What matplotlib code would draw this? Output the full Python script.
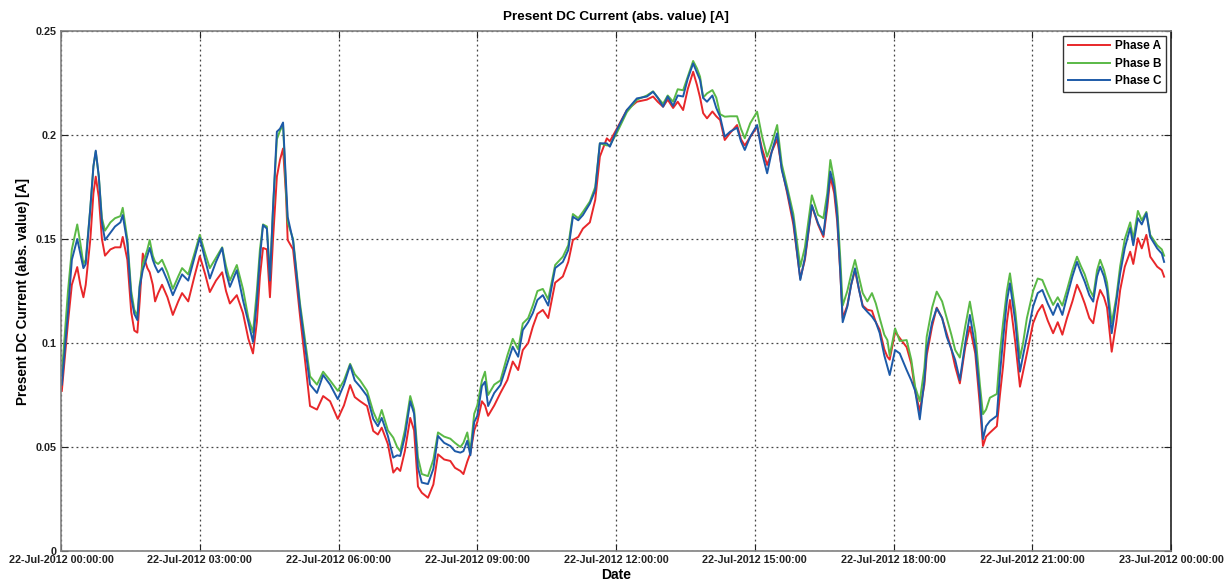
import numpy as np
import matplotlib
matplotlib.use("Agg")
import matplotlib.pyplot as plt
import matplotlib.dates as mdates
from matplotlib.ticker import FuncFormatter
from datetime import datetime, timedelta

# minutes after 22-Jul-2012 00:00:00
minutes = [1, 9, 14, 21, 25, 29, 32, 38, 42, 45, 49, 53, 57, 64, 70, 77, 80, 86, 91, 95,
           99, 102, 106, 112, 115, 119, 122, 126, 131, 138, 145, 152, 157, 165, 173, 180, 187, 193, 201, 209,
           214, 219, 228, 236, 243, 249, 254, 258, 262, 267, 271, 275, 280, 284, 288, 292, 294, 301, 310, 317,
           323, 332, 340, 349, 359, 367, 375, 381, 388, 397, 405, 411, 416, 424, 431, 436, 440, 446, 453, 458,
           463, 468, 476, 483, 489, 497, 505, 511, 518, 522, 527, 531, 536, 540, 546, 550, 554, 562, 570, 579,
           586, 593, 599, 606, 612, 618, 625, 632, 641, 651, 658, 664, 671, 677, 686, 693, 699, 708, 712, 721,
           734, 747, 760, 768, 774, 781, 787, 794, 800, 807, 813, 820, 825, 829, 833, 838, 845, 850, 855, 861,
           868, 877, 882, 887, 894, 903, 909, 916, 922, 929, 935, 942, 950, 959, 965, 974, 982, 989, 994, 998,
           1003, 1007, 1011, 1014, 1020, 1025, 1030, 1035, 1040, 1046, 1052, 1057, 1062, 1068, 1072, 1075, 1082, 1088, 1097, 1103,
           1108, 1114, 1120, 1123, 1130, 1136, 1143, 1149, 1155, 1160, 1166, 1173, 1179, 1186, 1192, 1196, 1200, 1205, 1214, 1218,
           1222, 1227, 1231, 1238, 1244, 1248, 1253, 1261, 1267, 1273, 1280, 1287, 1293, 1299, 1305, 1312, 1318, 1323, 1328, 1334,
           1339, 1344, 1348, 1353, 1357, 1363, 1369, 1374, 1380, 1387, 1391, 1397, 1402, 1408, 1413, 1422, 1428, 1431]

phase_a = [0.077, 0.110, 0.128, 0.1365, 0.128, 0.122, 0.128, 0.150, 0.172, 0.180, 0.170, 0.150, 0.142, 0.145, 0.146, 0.146, 0.151, 0.140, 0.115, 0.106,
           0.105, 0.120, 0.143, 0.136, 0.134, 0.128, 0.120, 0.124, 0.128, 0.122, 0.1135, 0.120, 0.124, 0.120, 0.132, 0.1418, 0.133, 0.1245, 0.130, 0.134,
           0.125, 0.119, 0.123, 0.1144, 0.102, 0.095, 0.110, 0.132, 0.1457, 0.145, 0.122, 0.150, 0.180, 0.188, 0.1935, 0.170, 0.1495, 0.145, 0.113, 0.090,
           0.0697, 0.068, 0.0745, 0.072, 0.0635, 0.070, 0.0798, 0.074, 0.072, 0.0697, 0.0577, 0.056, 0.0593, 0.0514, 0.0377, 0.040, 0.0385, 0.048, 0.064, 0.058,
           0.031, 0.028, 0.0256, 0.032, 0.0465, 0.044, 0.0433, 0.040, 0.0385, 0.037, 0.043, 0.047, 0.058, 0.062, 0.072, 0.070, 0.065, 0.070, 0.076, 0.0822,
           0.0911, 0.0870, 0.0966, 0.100, 0.1078, 0.114, 0.1159, 0.112, 0.129, 0.132, 0.139, 0.1495, 0.151, 0.155, 0.158, 0.1688, 0.1896, 0.1984, 0.197, 0.203,
           0.212, 0.216, 0.217, 0.2185, 0.216, 0.2136, 0.217, 0.213, 0.216, 0.212, 0.222, 0.2304, 0.224, 0.218, 0.2105, 0.208, 0.2113, 0.209, 0.2072, 0.1976,
           0.201, 0.2048, 0.198, 0.195, 0.199, 0.204, 0.194, 0.1856, 0.192, 0.198, 0.184, 0.172, 0.157, 0.131, 0.140, 0.166, 0.157, 0.151, 0.165, 0.180,
           0.172, 0.158, 0.133, 0.112, 0.118, 0.128, 0.135, 0.126, 0.118, 0.116, 0.1155, 0.110, 0.1064, 0.097, 0.0934, 0.092, 0.1054, 0.1024, 0.098, 0.090,
           0.077, 0.0673, 0.080, 0.094, 0.108, 0.117, 0.112, 0.1045, 0.097, 0.0886, 0.0806, 0.098, 0.1078, 0.095, 0.070, 0.0505, 0.055, 0.0569, 0.060, 0.075,
           0.0886, 0.110, 0.1207, 0.100, 0.079, 0.086, 0.095, 0.1095, 0.115, 0.1183, 0.1108, 0.1047, 0.110, 0.104, 0.112, 0.120, 0.128, 0.124, 0.119, 0.112,
           0.1095, 0.120, 0.1255, 0.122, 0.117, 0.0958, 0.110, 0.1255, 0.1367, 0.1439, 0.138, 0.1504, 0.1455, 0.152, 0.1415, 0.1367, 0.135, 0.1319]

phase_b = [0.085, 0.125, 0.145, 0.157, 0.148, 0.138, 0.140, 0.165, 0.185, 0.192, 0.180, 0.160, 0.154, 0.158, 0.160, 0.161, 0.165, 0.150, 0.125, 0.116,
           0.113, 0.128, 0.138, 0.145, 0.1495, 0.142, 0.139, 0.138, 0.140, 0.134, 0.126, 0.132, 0.136, 0.133, 0.143, 0.152, 0.143, 0.136, 0.141, 0.146,
           0.137, 0.130, 0.1375, 0.126, 0.112, 0.105, 0.125, 0.145, 0.157, 0.156, 0.132, 0.165, 0.198, 0.202, 0.205, 0.172, 0.158, 0.150, 0.119, 0.100,
           0.084, 0.080, 0.0862, 0.082, 0.077, 0.082, 0.090, 0.085, 0.082, 0.077, 0.067, 0.062, 0.0678, 0.058, 0.0545, 0.050, 0.048, 0.058, 0.0745, 0.068,
           0.045, 0.037, 0.036, 0.044, 0.057, 0.055, 0.054, 0.052, 0.050, 0.052, 0.057, 0.048, 0.066, 0.070, 0.082, 0.0862, 0.075, 0.080, 0.082, 0.094,
           0.102, 0.097, 0.1094, 0.112, 0.118, 0.125, 0.126, 0.121, 0.1375, 0.1415, 0.147, 0.162, 0.160, 0.163, 0.168, 0.175, 0.196, 0.195, 0.195, 0.201,
           0.211, 0.217, 0.219, 0.221, 0.218, 0.215, 0.219, 0.216, 0.222, 0.2215, 0.228, 0.2356, 0.232, 0.228, 0.218, 0.220, 0.2216, 0.218, 0.210, 0.2088,
           0.209, 0.209, 0.203, 0.1984, 0.2056, 0.2112, 0.200, 0.1896, 0.196, 0.2048, 0.186, 0.175, 0.162, 0.1367, 0.146, 0.171, 0.1616, 0.160, 0.172, 0.188,
           0.178, 0.165, 0.140, 0.118, 0.125, 0.133, 0.1399, 0.132, 0.124, 0.120, 0.124, 0.119, 0.112, 0.104, 0.1014, 0.094, 0.107, 0.101, 0.1014, 0.092,
           0.079, 0.072, 0.088, 0.103, 0.117, 0.1247, 0.120, 0.112, 0.104, 0.0966, 0.093, 0.108, 0.1199, 0.105, 0.080, 0.0658, 0.068, 0.0737, 0.0755, 0.095,
           0.1094, 0.125, 0.1335, 0.115, 0.0927, 0.100, 0.112, 0.125, 0.131, 0.1303, 0.124, 0.1183, 0.122, 0.118, 0.1255, 0.135, 0.1415, 0.137, 0.133, 0.126,
           0.1223, 0.135, 0.140, 0.135, 0.129, 0.1095, 0.122, 0.137, 0.150, 0.158, 0.150, 0.1635, 0.159, 0.163, 0.152, 0.147, 0.145, 0.142]

phase_c = [0.080, 0.115, 0.140, 0.150, 0.143, 0.136, 0.138, 0.165, 0.185, 0.1925, 0.180, 0.158, 0.1495, 0.153, 0.156, 0.158, 0.1615, 0.148, 0.122, 0.114,
           0.111, 0.127, 0.135, 0.142, 0.1457, 0.140, 0.137, 0.134, 0.136, 0.130, 0.123, 0.129, 0.133, 0.130, 0.141, 0.1505, 0.140, 0.131, 0.139, 0.1457,
           0.134, 0.127, 0.135, 0.1206, 0.110, 0.1005, 0.120, 0.141, 0.1567, 0.155, 0.130, 0.165, 0.2016, 0.203, 0.206, 0.175, 0.1606, 0.149, 0.117, 0.097,
           0.080, 0.076, 0.0846, 0.080, 0.073, 0.080, 0.0894, 0.082, 0.079, 0.0745, 0.0635, 0.060, 0.064, 0.0553, 0.0449, 0.046, 0.0457, 0.055, 0.072, 0.066,
           0.040, 0.0329, 0.0322, 0.0395, 0.0553, 0.052, 0.0505, 0.048, 0.0473, 0.048, 0.053, 0.046, 0.062, 0.065, 0.0793, 0.0814, 0.0697, 0.076, 0.0798, 0.0903,
           0.0982, 0.0934, 0.1062, 0.110, 0.1144, 0.1207, 0.123, 0.118, 0.136, 0.139, 0.1447, 0.1607, 0.159, 0.1615, 0.167, 0.1735, 0.196, 0.196, 0.1944, 0.2024,
           0.212, 0.2176, 0.2185, 0.2208, 0.218, 0.2136, 0.2185, 0.214, 0.219, 0.2185, 0.227, 0.2344, 0.230, 0.2264, 0.2178, 0.216, 0.219, 0.213, 0.2088, 0.1992,
           0.2016, 0.2035, 0.197, 0.1928, 0.1992, 0.2048, 0.192, 0.1816, 0.192, 0.2008, 0.1832, 0.173, 0.159, 0.1303, 0.141, 0.1663, 0.1576, 0.152, 0.168, 0.1824,
           0.175, 0.1607, 0.1335, 0.110, 0.1175, 0.128, 0.1359, 0.126, 0.1175, 0.115, 0.1127, 0.110, 0.1048, 0.094, 0.0886, 0.0846, 0.0966, 0.095, 0.087, 0.082,
           0.077, 0.0633, 0.082, 0.0966, 0.110, 0.1167, 0.112, 0.103, 0.097, 0.0918, 0.0822, 0.100, 0.1135, 0.098, 0.075, 0.0538, 0.060, 0.0625, 0.065, 0.085,
           0.1014, 0.120, 0.1287, 0.110, 0.0862, 0.094, 0.103, 0.1175, 0.124, 0.1255, 0.119, 0.1135, 0.119, 0.1135, 0.1223, 0.132, 0.139, 0.134, 0.1295, 0.123,
           0.1199, 0.132, 0.1367, 0.132, 0.1255, 0.1047, 0.120, 0.1335, 0.1457, 0.1553, 0.147, 0.160, 0.157, 0.1624, 0.151, 0.1455, 0.143, 0.139]

labels = ['Phase A', 'Phase B', 'Phase C']
colors = ['#e8272a', '#5ab946', '#1d5aa8']

plt.rcParams['font.family'] = ['Liberation Sans', 'DejaVu Sans']
plt.rcParams['font.weight'] = 'bold'

start = datetime(2012, 7, 22)
t = [start + timedelta(minutes=m) for m in minutes]

fig = plt.figure(figsize=(12.31, 5.86), dpi=100)
ax = fig.add_axes([0.0496, 0.0597, 0.9017, 0.8874])

for y, lab, c in zip([phase_a, phase_b, phase_c], labels, colors):
    ax.plot(t, y, color=c, lw=1.4, label=lab)

ax.set_xlim(start, start + timedelta(days=1))
ax.set_ylim(0, 0.25)
ax.xaxis.set_major_locator(mdates.HourLocator(byhour=range(0, 24, 3)))
ax.xaxis.set_major_formatter(mdates.DateFormatter('%d-%b-%Y %H:%M:%S'))
ax.set_yticks([0, 0.05, 0.1, 0.15, 0.2, 0.25])
ax.yaxis.set_major_formatter(FuncFormatter(lambda v, p: '%g' % round(v, 3)))
ax.tick_params(direction='in', length=5, labelsize=7.8, colors='#222222', pad=3,
               top=True, right=True)
ax.grid(True, color='#444444', linestyle=(0, (1.5, 2.5)), linewidth=0.9)
for s in ax.spines.values():
    s.set_color('#808080')
    s.set_linewidth(1.2)
ax.spines['right'].set_color('#222222')

ax.set_title('Present DC Current (abs. value) [A]', fontsize=9.7, fontweight='bold', pad=8)
ax.set_xlabel('Date', fontsize=10, fontweight='bold', labelpad=2)
ax.set_ylabel('Present DC Current (abs. value) [A]', fontsize=9.8, fontweight='bold', labelpad=4)

leg = ax.legend(loc='upper right', fontsize=8.5, handlelength=3.6, fancybox=False,
                edgecolor='#333333', framealpha=1, borderaxespad=0.4, labelspacing=0.45,
                handletextpad=0.4, borderpad=0.4)
leg.get_frame().set_linewidth(1.0)

fig.savefig('out.png', dpi=100)
